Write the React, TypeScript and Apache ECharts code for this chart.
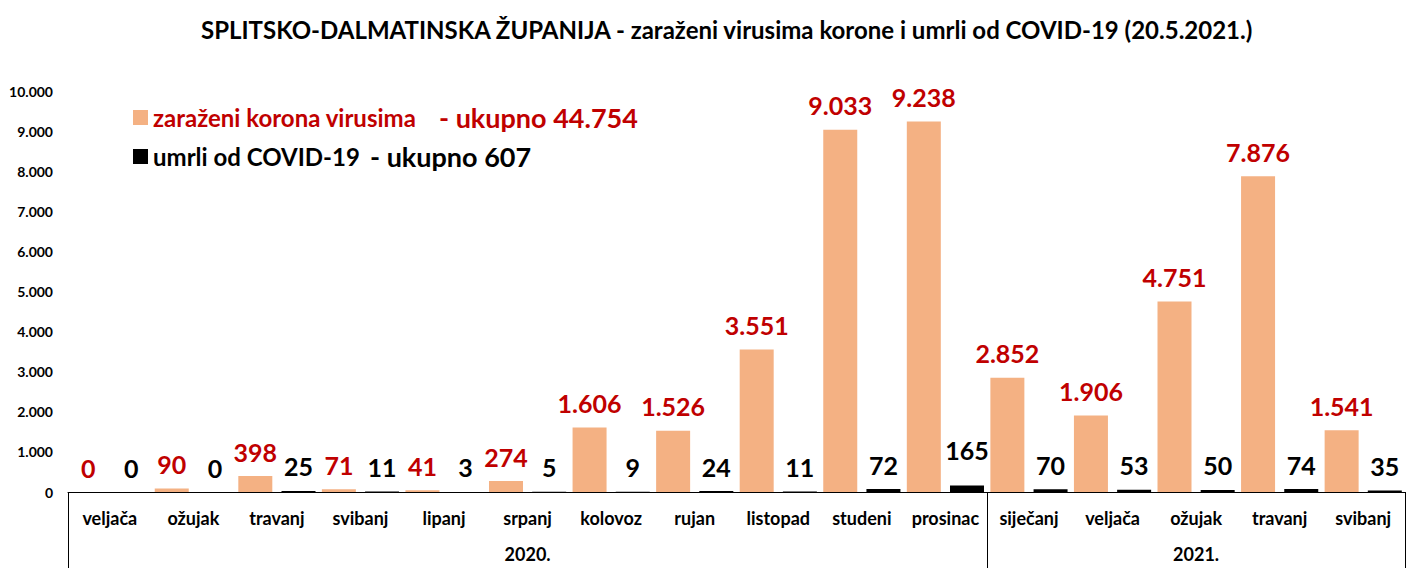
import React, { useEffect, useRef } from "react";
import * as echarts from "echarts";

const months = [
  "veljača", "ožujak", "travanj", "svibanj", "lipanj", "srpanj", "kolovoz", "rujan",
  "listopad", "studeni", "prosinac", "siječanj", "veljača", "ožujak", "travanj", "svibanj",
];
const infected = [0, 90, 398, 71, 41, 274, 1606, 1526, 3551, 9033, 9238, 2852, 1906, 4751, 7876, 1541];
const deaths = [0, 0, 25, 11, 3, 5, 9, 24, 11, 72, 165, 70, 53, 50, 74, 35];
const years = [
  { label: "2020.", pos: 5.5 },
  { label: "2021.", pos: 13.5 },
];
const yearBoundaries = [0, 11];
const infectedName = "zaraženi korona virusima";
const deathsName = "umrli od COVID-19";
const infectedTotal = "44.754";
const deathsTotal = "607";
const titleText = "SPLITSKO-DALMATINSKA ŽUPANIJA - zaraženi virusima korone i umrli od COVID-19 (20.5.2021.)";

const FONT = "Lato";
const ORANGE = "#F4B183";
const DARKRED = "#C00000";

const fmt = (v: number) => String(Math.round(v)).replace(/\B(?=(\d{3})+(?!\d))/g, ".");

export default function App() {
  const ref = useRef<HTMLDivElement>(null);
  useEffect(() => {
    document.body.style.margin = "0";
    const chart = echarts.init(ref.current!, undefined, { renderer: "svg" });
    chart.setOption({
      animation: false,
      backgroundColor: "#ffffff",
      textStyle: { fontFamily: FONT },
      title: {
        text: titleText,
        left: 196,
        top: 12,
        textStyle: { fontFamily: FONT, fontWeight: "bold", fontSize: 24, color: "#000" },
      },
      legend: {
        orient: "vertical",
        left: 128,
        top: 99,
        itemWidth: 15,
        itemHeight: 15,
        itemGap: 12,
        icon: "rect",
        data: [infectedName, deathsName],
        formatter: (name: string) =>
          name === infectedName
            ? `{a|${name}}{b|- ukupno ${infectedTotal}}`
            : `{c|${name}}{d|- ukupno ${deathsTotal}}`,
        textStyle: {
          fontFamily: FONT,
          rich: {
            a: { fontFamily: FONT, fontSize: 24, fontWeight: "bold", color: DARKRED, lineHeight: 30, width: 286 },
            b: { fontFamily: FONT, fontSize: 27, fontWeight: "bold", color: DARKRED, lineHeight: 30 },
            c: { fontFamily: FONT, fontSize: 24, fontWeight: "bold", color: "#000", lineHeight: 30, width: 217 },
            d: { fontFamily: FONT, fontSize: 27, fontWeight: "bold", color: "#000", lineHeight: 30 },
          },
        },
      },
      grid: { left: 68, right: 15, top: 91, bottom: 88, containLabel: false },
      xAxis: [
        {
          type: "category",
          data: months,
          position: "bottom",
          axisLine: { show: true, lineStyle: { color: "#000", width: 1 } },
          axisTick: {
            show: true,
            length: 76,
            interval: (i: number) => yearBoundaries.includes(i),
            lineStyle: { color: "#000", width: 1 },
          },
          axisLabel: {
            interval: 0,
            margin: 17,
            fontFamily: FONT,
            fontWeight: "bold",
            fontSize: 18,
            color: "#000",
          },
        },
        {
          type: "value",
          min: 0,
          max: months.length,
          interval: 0.5,
          position: "bottom",
          axisLine: { show: false },
          axisTick: { show: false },
          splitLine: { show: false },
          axisLabel: {
            margin: 53,
            fontFamily: FONT,
            fontWeight: "bold",
            fontSize: 18,
            color: "#000",
            showMinLabel: true,
            showMaxLabel: true,
            formatter: (v: number) => {
              const y = years.find((yy) => Math.abs(yy.pos - v) < 1e-6);
              return y ? y.label : "";
            },
          },
        },
      ],
      yAxis: {
        type: "value",
        min: 0,
        max: 10000,
        interval: 1000,
        axisLine: { show: false },
        axisTick: { show: false },
        splitLine: { show: false },
        axisLabel: {
          margin: 15,
          fontFamily: FONT,
          fontWeight: "bold",
          fontSize: 14,
          color: "#000",
          formatter: (v: number) => fmt(v),
        },
      },
      series: [
        {
          name: infectedName,
          type: "bar",
          data: infected,
          barWidth: 34,
          barGap: "27%",
          itemStyle: { color: ORANGE },
          label: {
            show: true,
            position: "top",
            distance: 12,
            fontFamily: FONT,
            fontWeight: "bold",
            fontSize: 25,
            color: DARKRED,
            formatter: (p: any) => fmt(p.value),
          },
        },
        {
          name: deathsName,
          type: "bar",
          data: deaths.map((v) => (v === 165 ? { value: v, label: { distance: 23 } } : v)),
          barWidth: 34,
          itemStyle: { color: "#000" },
          label: {
            show: true,
            position: "top",
            distance: 12,
            fontFamily: FONT,
            fontWeight: "bold",
            fontSize: 25,
            color: "#000",
            formatter: (p: any) => fmt(p.value),
          },
        },
      ],
    });
    return () => chart.dispose();
  }, []);
  return <div ref={ref} style={{ width: 1420, height: 580 }} />;
}
